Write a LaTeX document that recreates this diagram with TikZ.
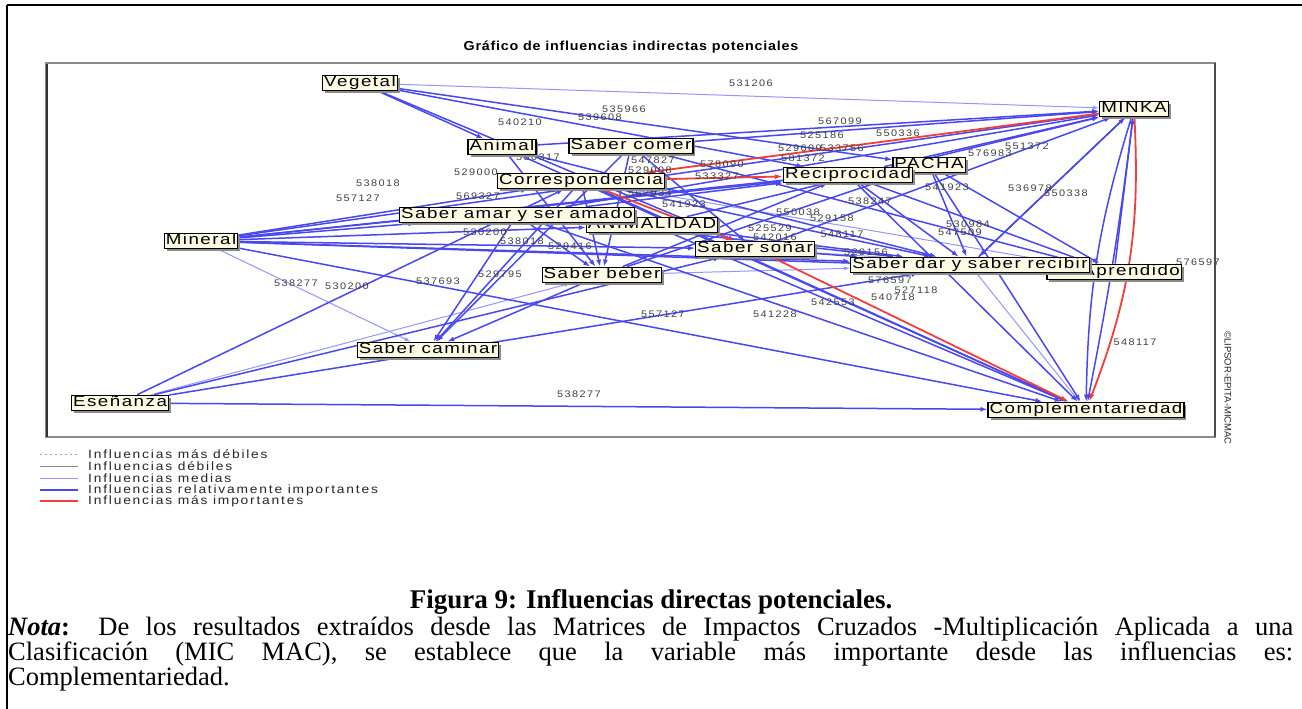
\documentclass[tikz,border=0pt]{standalone}
\usepackage{fontspec}
\setmainfont{Liberation Serif}
\newfontfamily\lblfont[FakeStretch=1.25,LetterSpace=10]{Liberation Sans}
\newfontfamily\numfont[FakeStretch=1.15,LetterSpace=15]{Liberation Sans}
\newfontfamily\ttlfont[FakeStretch=1.1,LetterSpace=6]{Liberation Sans}
\newfontfamily\cpyfont{Liberation Sans}
\usetikzlibrary{arrows.meta,shadows}
\pgfdeclarelayer{back}
\pgfdeclarelayer{edges}
\pgfdeclarelayer{vals}
\pgfsetlayers{back,edges,vals,main}
\definecolor{rb}{RGB}{72,72,238}
\definecolor{lb}{RGB}{150,150,246}
\definecolor{rr}{RGB}{238,62,62}
\definecolor{cream}{RGB}{252,250,226}
\tikzset{
  var/.style={draw=black, line width=1.2pt, fill=cream,
    font=\lblfont\fontsize{15}{15}\selectfont, inner xsep=1.5pt, inner ysep=1pt,
    text height=10.5pt, text depth=3pt,
    drop shadow={shadow xshift=2.5pt, shadow yshift=-2.5pt, fill=black!45, opacity=1}},
  rel/.style={draw=rb, line width=1.5pt, -{Latex[length=7pt,width=5pt]}},
  med/.style={draw=lb, line width=1pt, -{Latex[length=6pt,width=4pt]}},
  imp/.style={draw=rr, line width=1.8pt, -{Latex[length=8pt,width=5pt]}},
  num/.style={font=\numfont\fontsize{9.5}{9.5}\selectfont, text=black!75, inner sep=0pt},
  leg/.style={font=\numfont\fontsize{12}{12}\selectfont, text=black!85, anchor=west, inner sep=0pt}
}
\begin{document}
\begin{tikzpicture}[x=1pt,y=-1pt]
\useasboundingbox (0,0) rectangle (1302,709);
\begin{pgfonlayer}{back}
\fill[white] (0,0) rectangle (1302,709);
\end{pgfonlayer}
% outer page frame
\draw[black, line width=1.5pt] (7,5) -- (1302,5);
\draw[black, line width=1.5pt] (7,5) -- (7,709);
% plot frame
\draw[black!45, line width=1.5pt] (46,63) rectangle (1215,437);
\draw[black!80, line width=1.5pt] (47,64) -- (47,437);
\draw[black!70, line width=1.5pt] (1215,63) -- (1215,437);
% title
\node[font=\ttlfont\bfseries\fontsize{13}{14}\selectfont] (title) at (631,47) {Gráfico de influencias indirectas potenciales};

% variable boxes
\node[var] (veg) at (360,83) {Vegetal};
\node[var] (minka) at (1134,109) {MINKA};
\node[var] (ani) at (502,147) {Animal};
\node[var] (comer) at (631,146) {Saber comer};
\node[var] (corr) at (581,181) {Correspondencia};
\node[var] (pacha) at (929,165) {PACHA};
\node[var] (rec) at (848,175) {Reciprocidad};
\node[var] (animalidad) at (652,225) {ANIMALIDAD};
\node[var] (amar) at (517,215) {Saber amar y ser amado};
\node[var] (min) at (201,241) {Mineral};
\node[var] (sonar) at (755,249) {Saber soñar};
\node[var, anchor=east] (apr) at (1182,272) {\hspace*{34pt}Aprendido};
\node[var] (dar) at (970,265) {Saber dar y saber recibir};
\node[var] (beber) at (602,275) {Saber beber};
\node[var] (caminar) at (428,350) {Saber caminar};
\node[var] (ese) at (120,403) {Eseñanza};
\node[var] (comp) at (1086,410) {Complementariedad};

\begin{pgfonlayer}{edges}
% edges: medium
\draw[med] (veg) -- (minka);
\draw[med] (min) -- (caminar);
\draw[med] (ese) -- (beber);
\draw[med] (dar) -- (comp);
\draw[med] (corr) -- (apr);
\draw[med] (sonar) -- (apr);
\draw[med] (beber) -- (dar);
% edges: relatively important
\draw[rel] (veg) -- (rec);
\draw[rel] (veg) -- (pacha);
\draw[rel] (veg) -- (ani);
\draw[rel] (veg) -- (sonar);
\draw[rel] (ani) -- (minka);
\draw[rel] (ani) -- (beber);
\draw[rel] (ani) -- (comp);
\draw[rel] (ani) -- (dar);
\draw[rel] (comer) -- (minka);
\draw[rel] (comer) -- (caminar);
\draw[rel] (comer) -- (apr);
\draw[rel] (comer) -- (beber);
\draw[rel] (comer) -- (sonar);
\draw[rel] (min) -- (corr);
\draw[rel] (min) -- (amar);
\draw[rel] (min) -- (rec);
\draw[rel] (min) -- (pacha);
\draw[rel] (min) -- (minka);
\draw[rel] (min) -- (sonar);
\draw[rel] (min) -- (dar);
\draw[rel] (min) -- (apr);
\draw[rel] (min) -- (comp);
\draw[rel] (min) -- (animalidad);
\draw[rel] (ese) -- (comp);
\draw[rel] (ese) -- (corr);
\draw[rel] (ese) -- (sonar);
\draw[rel] (ese) -- (dar);
\draw[rel] (amar) -- (caminar);
\draw[rel] (beber) -- (caminar);
\draw[rel] (corr) -- (caminar);
\draw[rel] (rec) -- (comp);
\draw[rel] (pacha) -- (comp);
\draw[rel] (corr) -- (comp);
\draw[rel] (amar) -- (comp);
\draw[rel] (animalidad) -- (comp);
\draw[rel] (amar) -- (minka);
\draw[rel] (animalidad) -- (minka);
\draw[rel] (sonar) -- (minka);
\draw[rel] (rec) -- (minka);
\draw[rel] (amar) -- (rec);
\draw[rel] (corr) -- (dar);
\draw[rel] (amar) -- (dar);
\draw[rel] (animalidad) -- (dar);
\draw[rel] (rec) -- (dar);
\draw[rel] (pacha) -- (dar);
\draw[rel] (pacha) -- (apr);
\draw[rel] (rec) -- (apr);
\draw[rel] (sonar) -- (dar);
\draw[rel] (amar) -- (beber);
\draw[rel] (corr) -- (beber);
\draw[rel] (beber) -- (rec);
\draw[rel] (beber) -- (pacha);
\draw[rel] (dar) -- (minka);
\draw[rel] (apr) -- (minka);
\draw[rel] (minka) -- (dar);
\draw[rel] (minka) to[bend right=8] (comp);
\draw[rel] (minka) to[bend left=2] (comp);
% edges: most important
\draw[imp] (minka) -- (corr);
\draw[imp] (corr) -- (rec);
\draw[imp] (corr) -- (sonar);
\draw[imp] (sonar) -- (comp);
\draw[imp] (minka) to[bend left=12] (comp);
\end{pgfonlayer}

\begin{pgfonlayer}{vals}
\node[num] (v1) at (751,83) {531206};
\node[num] (v2) at (624,109) {535966};
\node[num] (v3) at (600,117) {539608};
\node[num] (v4) at (520,122) {540210};
\node[num] (v5) at (840,121) {567099};
\node[num] (v6) at (822,135) {525186};
\node[num] (v7) at (898,133) {550336};
\node[num] (v8) at (1027,146) {551372};
\node[num] (v9) at (990,153) {576983};
\node[num] (v10) at (800,148) {529609};
\node[num] (v11) at (842,148) {533756};
\node[num] (v12) at (803,158) {581372};
\node[num] (v13) at (653,160) {547827};
\node[num] (v14) at (650,170) {529008};
\node[num] (v15) at (722,164) {578090};
\node[num] (v16) at (717,176) {533327};
\node[num] (v17) at (538,157) {530317};
\node[num] (v18) at (378,183) {538018};
\node[num] (v19) at (358,198) {557127};
\node[num] (v20) at (476,172) {529000};
\node[num] (v21) at (478,196) {569327};
\node[num] (v22) at (485,232) {530200};
\node[num] (v23) at (522,241) {538018};
\node[num] (v24) at (570,246) {529416};
\node[num] (v25) at (684,204) {541923};
\node[num] (v26) at (650,193) {562934};
\node[num] (v27) at (798,212) {550038};
\node[num] (v28) at (832,218) {529158};
\node[num] (v29) at (770,228) {525529};
\node[num] (v30) at (842,234) {548117};
\node[num] (v31) at (775,237) {542016};
\node[num] (v32) at (870,201) {538247};
\node[num] (v33) at (947,187) {541923};
\node[num] (v34) at (1030,188) {536978};
\node[num] (v35) at (1066,193) {550338};
\node[num] (v36) at (968,224) {530984};
\node[num] (v37) at (960,232) {547509};
\node[num] (v38) at (866,252) {529156};
\node[num] (v39) at (1198,262) {576597};
\node[num] (v40) at (890,280) {576597};
\node[num] (v41) at (893,297) {540718};
\node[num] (v42) at (916,290) {527118};
\node[num] (v43) at (833,302) {542553};
\node[num] (v44) at (775,314) {541228};
\node[num] (v45) at (663,314) {557127};
\node[num] (v46) at (500,274) {529795};
\node[num] (v47) at (438,281) {537693};
\node[num] (v48) at (296,283) {538277};
\node[num] (v49) at (347,286) {530200};
\node[num] (v50) at (579,394) {538277};
\node[num] (v51) at (1135,342) {548117};
\end{pgfonlayer}
\node[font=\cpyfont\fontsize{9.5}{9.5}\selectfont, text=black!85, inner sep=0pt, rotate=-90] (copy) at (1228,388) {©LIPSOR-EPITA-MICMAC};

% legend
\draw[black!35, line width=0.8pt, dash pattern=on 2pt off 3pt] (40,454) -- (78,454);
\draw[black!45, line width=1pt] (40,466) -- (78,466);
\draw[lb, line width=1pt] (40,478) -- (78,478);
\draw[rb, line width=1.8pt] (40,490) -- (78,490);
\draw[rr, line width=1.8pt] (40,501) -- (78,501);
\node[leg] (l1) at (88,454) {Influencias más débiles};
\node[leg] (l2) at (88,466) {Influencias débiles};
\node[leg] (l3) at (88,478) {Influencias medias};
\node[leg] (l4) at (88,490) {Influencias relativamente importantes};
\node[leg] (l5) at (88,501) {Influencias más importantes};

% caption
\node[font=\bfseries\fontsize{27}{30}\selectfont, inner sep=0pt] (cap) at (651,602) {Figura 9: Influencias directas potenciales.};
\node[anchor=north west, inner sep=0pt] (nota) at (8,617) {\parbox[t]{1285pt}{\fontsize{26.5}{25}\selectfont\parfillskip=0pt
\textbf{\textit{Nota}:} De los resultados extraídos desde las Matrices de Impactos Cruzados -Multiplicación Aplicada a una\par
Clasificación (MIC MAC), se establece que la variable más importante desde las influencias es:\par
\parfillskip=0pt plus 1fil Complementariedad.\par}};
\end{tikzpicture}
\end{document}
